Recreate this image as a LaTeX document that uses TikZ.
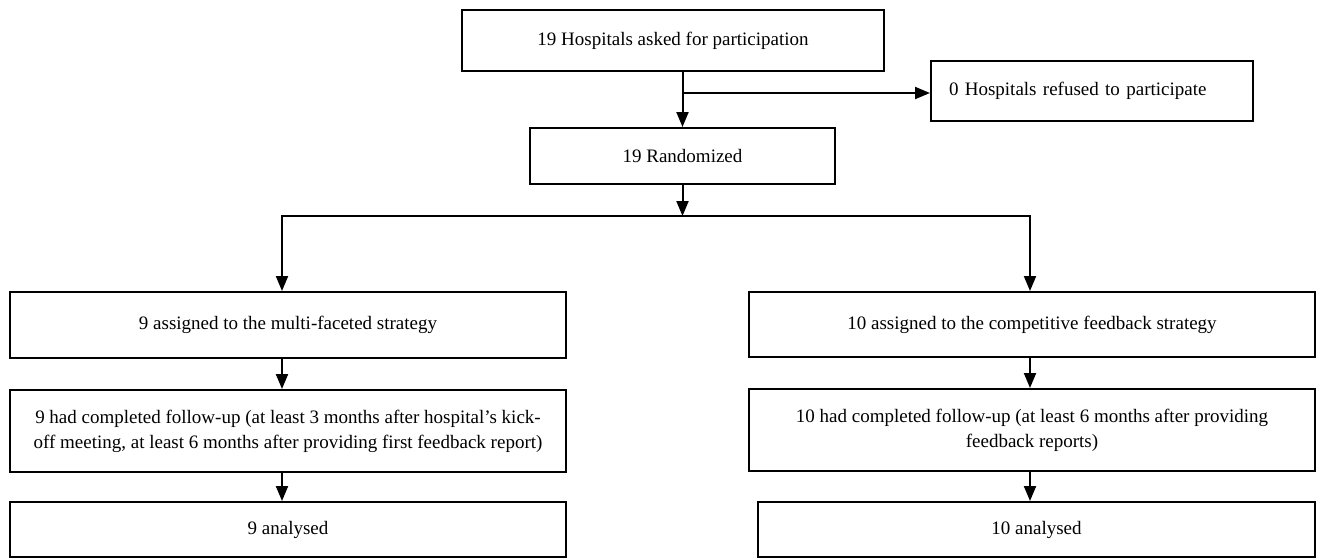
\documentclass[tikz,border=0pt]{standalone}
\usepackage{fontspec}
\setmainfont{Liberation Serif}
\usetikzlibrary{arrows.meta,positioning,calc}

\begin{document}
\begin{tikzpicture}[
  box/.style={draw,line width=1pt,align=center,inner sep=0pt,
              font=\fontsize{9.5}{12.5}\selectfont},
  arr/.style={-{Triangle[length=7.5pt,width=6pt]},line width=1pt},
  x=0.5pt, y=-0.5pt
]
\useasboundingbox (0,0) rectangle (1318,558);

% --- enrolment ---
\node[box,minimum width=211pt,minimum height=30.5pt] (ask) at (673,40.5)
  {19 Hospitals asked for participation};
\node[box,align=left,text width=143pt,inner xsep=9pt,minimum height=30pt] (refuse) at (1092,91)
  {0 Hospitals refused to participate};
\node[box,minimum width=152.5pt,minimum height=28pt] (rand) at (682.5,156)
  {19 Randomized};

% --- multi-faceted arm ---
\node[box,minimum width=278pt,minimum height=33pt] (multi) at (288,325)
  {9 assigned to the multi-faceted strategy};
\node[box,minimum width=278pt,minimum height=41pt] (multifu) at (288,431)
  {9 had completed follow-up (at least 3 months after hospital’s kick-\\
   off meeting, at least 6 months after providing first feedback report)};
\node[box,minimum width=278pt,minimum height=27.5pt] (multian) at (288,529.5)
  {9 analysed};

% --- competitive feedback arm ---
\node[box,minimum width=283pt,minimum height=32.5pt] (comp) at (1032,324.5)
  {10 assigned to the competitive feedback strategy};
\node[box,minimum width=283pt,minimum height=41pt] (compfu) at (1032,430)
  {10 had completed follow-up (at least 6 months after providing\\
   feedback reports)};
\node[box,minimum width=278.5pt,minimum height=27.5pt] (compan) at (1036.5,529.5)
  {10 analysed};

% --- split points ---
\coordinate (branch) at (682.5,93);
\coordinate (split)  at (682.5,216);
\coordinate (splitL) at (282,216);
\coordinate (splitR) at (1030,216);

% --- arrows ---
\draw[arr] (ask.south -| rand.north) -- (rand.north);
\draw[arr] (branch) -- (branch -| refuse.west);
\draw[arr] (rand.south) -- (split);
\draw[arr] (split) -| (splitL |- multi.north);
\draw[arr] (split) -| (splitR |- comp.north);
\draw[arr] (splitL |- multi.south)   -- (splitL |- multifu.north);
\draw[arr] (splitL |- multifu.south) -- (splitL |- multian.north);
\draw[arr] (splitR |- comp.south)    -- (splitR |- compfu.north);
\draw[arr] (splitR |- compfu.south)  -- (splitR |- compan.north);
\end{tikzpicture}
\end{document}
